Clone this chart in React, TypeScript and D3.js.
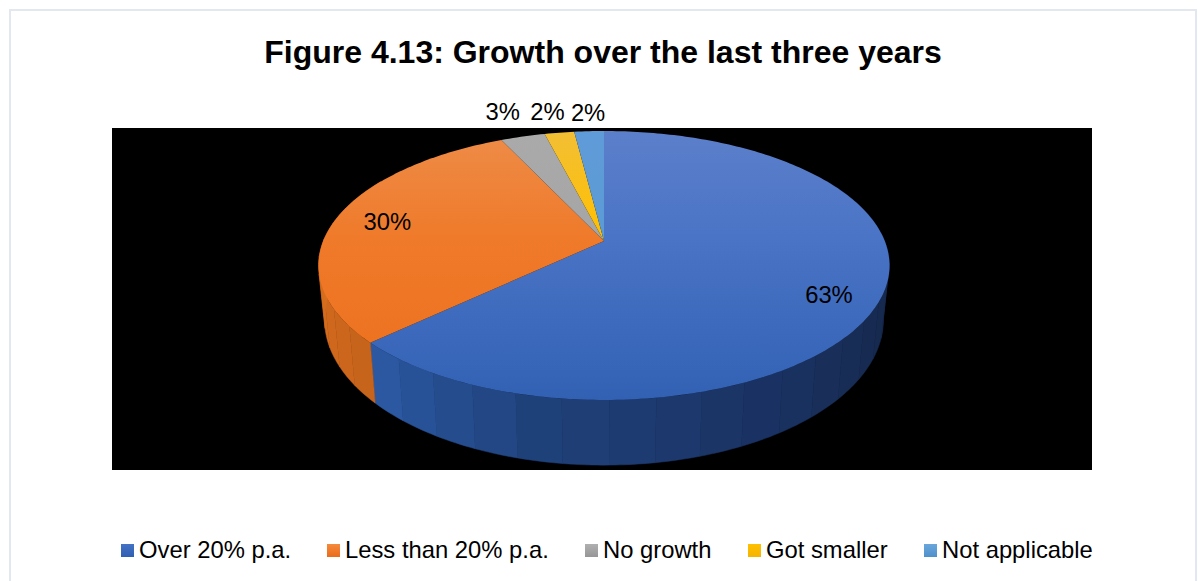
import React from "react";
import * as d3 from "d3";

// Survey categories and their shares, clockwise from twelve o'clock
const categories = ["Over 20% p.a.", "Less than 20% p.a.", "No growth", "Got smaller", "Not applicable"];
const shares = [63, 30, 3, 2, 2];
const shareLabels = ["63%", "30%", "3%", "2%", "2%"];

const topStops = [
  ["#5c7fca", "#4a74c6", "#3261b4"],
  ["#ee8c48", "#ef7a2a", "#ec6f1c"],
  ["#aaaaaa", "#a5a5a5", "#a0a0a0"],
  ["#f2bf35", "#ffc000", "#ffb900"],
  ["#5f9bd8", "#5b9bd5", "#5a97d2"],
];
const legendStops = [
  ["#4472c4", "#2f5fb3"],
  ["#f58a3c", "#ea6c1a"],
  ["#b0b0b0", "#969696"],
  ["#ffc000", "#f5b400"],
  ["#6aa6dc", "#4f90cc"],
];

const WIDTH = 1198;
const HEIGHT = 581;

// Tilted disc: a unit circle seen through a perspective divide
const PERSPECTIVE = 0.182;
const topPlane = { cx: 604, cy: 241, a: 280.7, b: 130 };
const basePlane = { cx: 604, cy: 293, a: 274.8, b: 140.8 };

type Plane = typeof topPlane;

function project(plane: Plane, angle: number, r = 1): [number, number] {
  const u = Math.sin(angle) * r;
  const v = -Math.cos(angle) * r;
  const w = 1 - PERSPECTIVE * v;
  return [plane.cx + (plane.a * u) / w, plane.cy + (plane.b * v) / w];
}

const line = d3.line<[number, number]>();
const pie = d3.pie<number>().sort(null).value((d) => d)(shares);
const degrees = (deg: number) => (deg * Math.PI) / 180;

function sampleAngles(start: number, end: number, steps: number) {
  return d3.range(steps + 1).map((i) => start + ((end - start) * i) / steps);
}

// Rim shading by angle for the two slices whose wall faces the viewer
const blueWall = d3
  .scaleLinear<string>()
  .domain([60, 110, 150, 190, 227].map(degrees))
  .range(["#16294d", "#16294d", "#1a3262", "#1f4079", "#2c5ba5"]);
const orangeWall = d3
  .scaleLinear<string>()
  .domain([227, 250, 285].map(degrees))
  .range(["#c4631c", "#d2691c", "#dc7420"]);
const BAND = degrees(8);

// Placement of each percentage, relative to its slice's mid-angle
const labelAnchors = [
  { r: 0.83, dx: -2.5, dy: 8 },
  { r: 0.8, dx: -2, dy: 0 },
  { r: 1, dx: -20, dy: -24.5 },
  { r: 1, dx: -12, dy: -21 },
  { r: 1, dx: -1, dy: -19 },
];
const legendSwatchX = [121, 327, 585, 748, 924];

function Walls() {
  const visibleFrom = degrees(60);
  const visibleTo = degrees(300);
  const strips: React.ReactNode[] = [];
  pie.forEach((slice, i) => {
    if (i > 1) return;
    const start = Math.max(slice.startAngle, visibleFrom);
    const end = Math.min(slice.endAngle, visibleTo);
    const colour = i === 0 ? blueWall : orangeWall;
    const bandCount = Math.ceil((end - start) / BAND);
    const edges = sampleAngles(start, end, bandCount);
    edges.slice(1).forEach((a1, k) => {
      const a0 = edges[k];
      const fill = colour((a0 + a1) / 2);
      const arc = sampleAngles(a0, a1, 8);
      const band = [
        ...arc.map((a) => project(topPlane, a)),
        ...arc.slice().reverse().map((a) => project(basePlane, a)),
      ];
      strips.push(<path key={`${i}-${k}`} d={line(band) + "Z"} fill={fill} stroke={fill} strokeWidth={0.5} />);
    });
  });
  return <g>{strips}</g>;
}

function TopFace() {
  return (
    <g>
      {pie.map((slice, i) => {
        const steps = Math.max(8, Math.ceil((slice.endAngle - slice.startAngle) / degrees(1)));
        const rim = sampleAngles(slice.startAngle, slice.endAngle, steps).map((a) => project(topPlane, a));
        const outline: [number, number][] = [[topPlane.cx, topPlane.cy], ...rim];
        return <path key={categories[i]} d={line(outline) + "Z"} fill={`url(#top-${i})`} />;
      })}
    </g>
  );
}

export default function App() {
  const text = { fontFamily: "'Liberation Sans', Arial, sans-serif", fill: "#000" };
  return (
    <svg width={WIDTH} height={HEIGHT} style={{ position: "absolute", left: 0, top: 0, display: "block" }}>
      <defs>
        {topStops.map((stops, i) => (
          <linearGradient key={i} id={`top-${i}`} gradientUnits="userSpaceOnUse" x1={0} x2={0} y1={131} y2={400}>
            <stop offset="0" stopColor={stops[0]} />
            <stop offset="0.4" stopColor={stops[1]} />
            <stop offset="1" stopColor={stops[2]} />
          </linearGradient>
        ))}
        {legendStops.map((stops, i) => (
          <linearGradient key={i} id={`key-${i}`} x1={0} x2={0} y1={0} y2={1}>
            <stop offset="0" stopColor={stops[0]} />
            <stop offset="1" stopColor={stops[1]} />
          </linearGradient>
        ))}
      </defs>

      <rect width={WIDTH} height={HEIGHT} fill="#fff" />
      <path d={`M10,${HEIGHT} V10 H1196 V${HEIGHT}`} fill="none" stroke="#e3e7ef" strokeWidth={2} />

      <text x={603} y={63} textAnchor="middle" fontSize={32} fontWeight={700} {...text}>
        Figure 4.13: Growth over the last three years
      </text>

      <rect x={112} y={128} width={980} height={342} fill="#000" />
      <Walls />
      <TopFace />

      {pie.map((slice, i) => {
        const anchor = labelAnchors[i];
        const [x, y] = project(topPlane, (slice.startAngle + slice.endAngle) / 2, anchor.r);
        return (
          <text key={i} x={x + anchor.dx} y={y + anchor.dy} dy="0.35em" textAnchor="middle" fontSize={23.8} {...text}>
            {shareLabels[i]}
          </text>
        );
      })}

      {categories.map((name, i) => (
        <g key={name}>
          <rect x={legendSwatchX[i]} y={544} width={13} height={13} fill={`url(#key-${i})`} />
          <text x={legendSwatchX[i] + 18} y={558} fontSize={23.8} {...text}>
            {name}
          </text>
        </g>
      ))}
    </svg>
  );
}
